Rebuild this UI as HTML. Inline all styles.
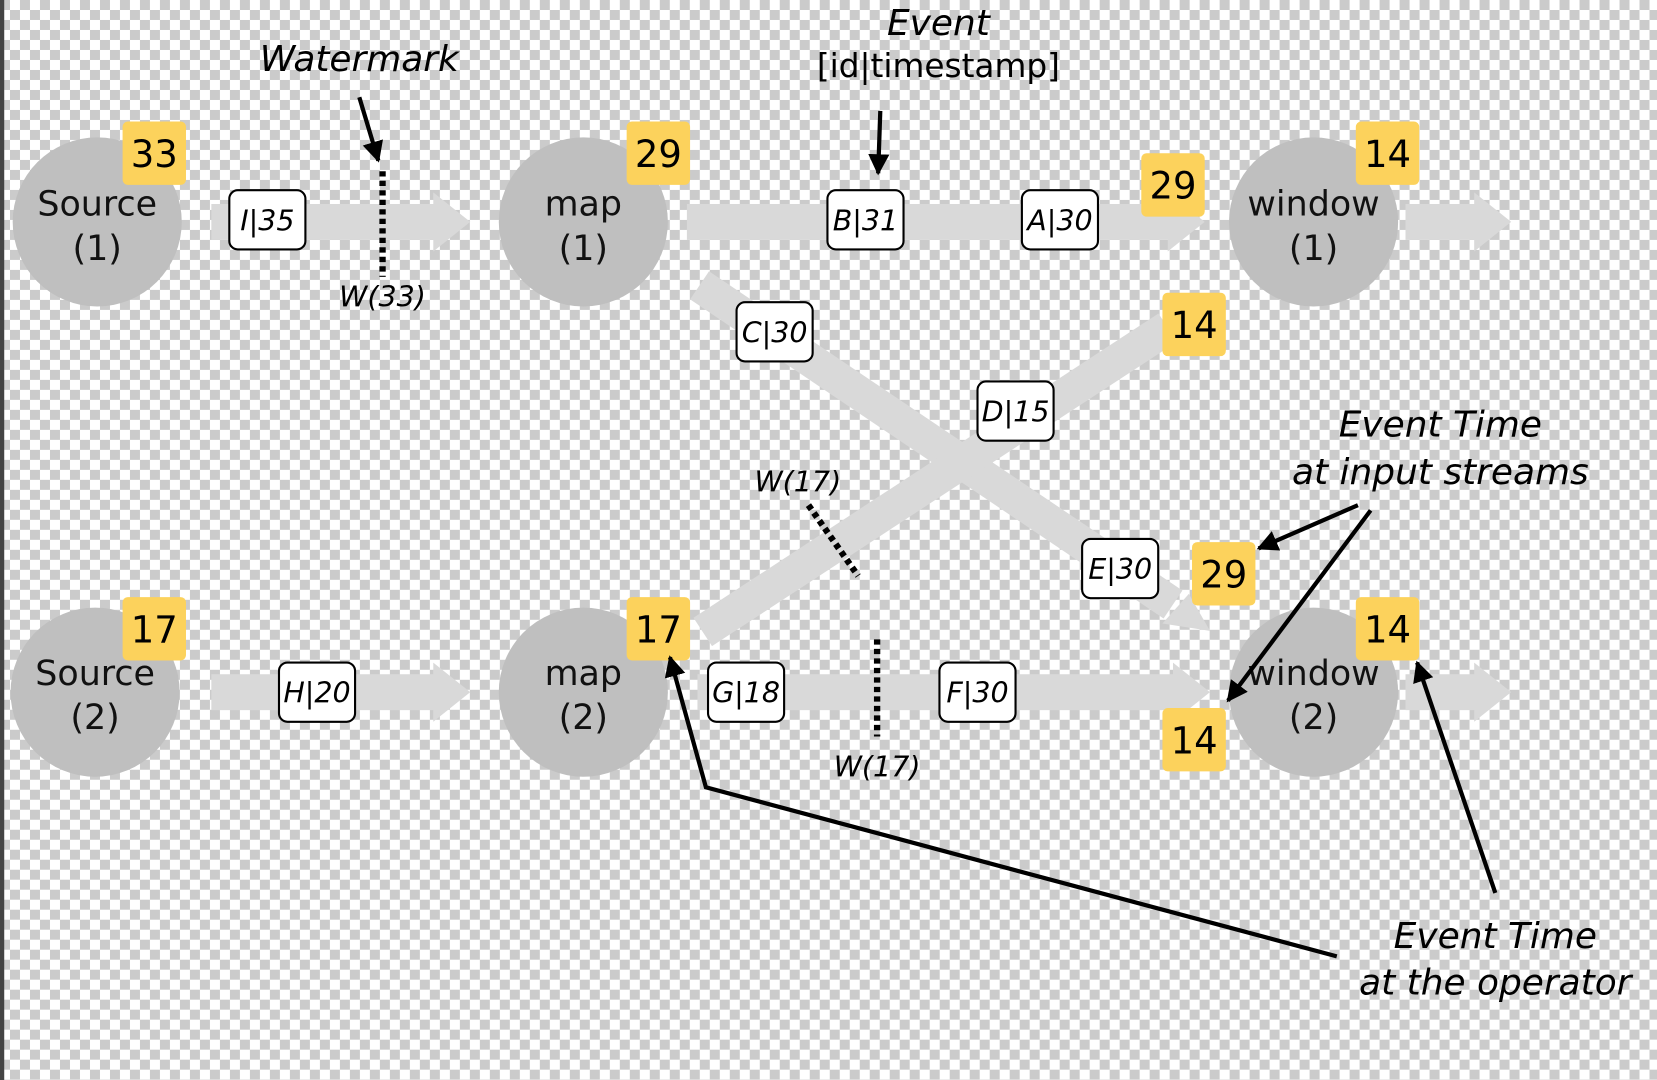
<!DOCTYPE html>
<html><head><meta charset="utf-8"><style>
html,body{margin:0;padding:0;width:1657px;height:1080px;overflow:hidden;background:#fff}
svg{display:block}
text{font-family:"DejaVu Sans","Liberation Sans",sans-serif}
.b{fill:#fff;stroke:#000;stroke-width:2}
.bt{font-size:27px;font-style:italic;text-anchor:middle}
.y{fill:#fcd25c}
.yt{font-size:35px;text-anchor:middle}
.c{fill:#bfbfbf}
.ct{font-size:33px;text-anchor:middle;fill:#111}
.a{fill:#d9d9d9}
.l{stroke:#000;stroke-width:4;fill:none}
.d{stroke:#000;stroke-width:6;stroke-dasharray:5 4;fill:none}
.it{font-style:italic;text-anchor:middle}
</style></head><body>
<svg width="1657" height="1080" viewBox="0 0 1568 1022" preserveAspectRatio="none">
<defs>
<pattern id="ck" width="18.92" height="18.92" patternUnits="userSpaceOnUse">
<rect width="18.92" height="18.92" fill="#fff"/>
<rect width="9.46" height="9.46" fill="#cbcbcb"/>
<rect x="9.46" y="9.46" width="9.46" height="9.46" fill="#cbcbcb"/>
</pattern>
<marker id="ah" markerWidth="6" markerHeight="6" refX="4.5" refY="3" orient="auto" markerUnits="strokeWidth">
<path d="M0,0.5 L5,3 L0,5.5 z" fill="#000"/>
</marker>
</defs>
<rect width="1568" height="1022" fill="url(#ck)"/>
<rect x="0" y="0" width="4" height="1022" fill="#444"/>

<g class="a">
<path d="M200,193 H410 V182 L445,210 L410,238 V227 H200 z"/>
<path d="M650,193 H1105 V182 L1140,210 L1105,238 V227 H650 z"/>
<path d="M1330,193 H1395 V182 L1430,210 L1395,238 V227 H1330 z"/>
<path d="M200,638 H410 V627 L445,655 L410,683 V672 H200 z"/>
<path d="M660,638 H1110 V627 L1145,655 L1110,683 V672 H660 z"/>
<path d="M1330,638 H1395 V627 L1430,655 L1395,683 V672 H1330 z"/>
</g>
<g stroke="#d9d9d9" stroke-width="32">
<line x1="662" y1="270" x2="1110" y2="572"/>
<line x1="665" y1="598" x2="1105" y2="310"/>
</g>
<path class="a" d="M1100,590 L1145,597 L1125,562 z"/>

<circle class="c" cx="92" cy="210" r="80"/>
<circle class="c" cx="552" cy="210" r="80"/>
<circle class="c" cx="1243" cy="210" r="80"/>
<circle class="c" cx="90" cy="655" r="80"/>
<circle class="c" cx="552" cy="655" r="80"/>
<circle class="c" cx="1243" cy="655" r="80"/>
<text class="ct" x="92" y="204">Source</text><text class="ct" x="92" y="246">(1)</text>
<text class="ct" x="552" y="204">map</text><text class="ct" x="552" y="246">(1)</text>
<text class="ct" x="1243" y="204">window</text><text class="ct" x="1243" y="246">(1)</text>
<text class="ct" x="90" y="648">Source</text><text class="ct" x="90" y="690">(2)</text>
<text class="ct" x="552" y="648">map</text><text class="ct" x="552" y="690">(2)</text>
<text class="ct" x="1243" y="648">window</text><text class="ct" x="1243" y="690">(2)</text>

<g>
<rect class="y" x="116" y="115" width="60" height="60" rx="5"/><text class="yt" x="146" y="158">33</text>
<rect class="y" x="593" y="115" width="60" height="60" rx="5"/><text class="yt" x="623" y="158">29</text>
<rect class="y" x="1080" y="145" width="60" height="60" rx="5"/><text class="yt" x="1110" y="188">29</text>
<rect class="y" x="1283" y="115" width="60" height="60" rx="5"/><text class="yt" x="1313" y="158">14</text>
<rect class="y" x="1100" y="277" width="60" height="60" rx="5"/><text class="yt" x="1130" y="320">14</text>
<rect class="y" x="1128" y="513" width="60" height="60" rx="5"/><text class="yt" x="1158" y="556">29</text>
<rect class="y" x="116" y="565" width="60" height="60" rx="5"/><text class="yt" x="146" y="608">17</text>
<rect class="y" x="593" y="565" width="60" height="60" rx="5"/><text class="yt" x="623" y="608">17</text>
<rect class="y" x="1283" y="565" width="60" height="60" rx="5"/><text class="yt" x="1313" y="608">14</text>
<rect class="y" x="1100" y="670" width="60" height="60" rx="5"/><text class="yt" x="1130" y="713">14</text>
</g>

<g>
<rect class="b" x="217" y="180" width="72" height="56" rx="8"/><text class="bt" x="253" y="218">I|35</text>
<rect class="b" x="783" y="180" width="72" height="56" rx="8"/><text class="bt" x="819" y="218">B|31</text>
<rect class="b" x="967" y="180" width="72" height="56" rx="8"/><text class="bt" x="1003" y="218">A|30</text>
<rect class="b" x="697" y="286" width="72" height="56" rx="8"/><text class="bt" x="733" y="324">C|30</text>
<rect class="b" x="925" y="361" width="72" height="56" rx="8"/><text class="bt" x="961" y="399">D|15</text>
<rect class="b" x="1024" y="510" width="72" height="56" rx="8"/><text class="bt" x="1060" y="548">E|30</text>
<rect class="b" x="264" y="627" width="72" height="56" rx="8"/><text class="bt" x="300" y="665">H|20</text>
<rect class="b" x="670" y="627" width="72" height="56" rx="8"/><text class="bt" x="706" y="665">G|18</text>
<rect class="b" x="889" y="627" width="72" height="56" rx="8"/><text class="bt" x="925" y="665">F|30</text>
</g>

<line class="d" x1="362" y1="162" x2="362" y2="262"/>
<line class="d" x1="765" y1="478" x2="812" y2="545"/>
<line class="d" x1="830" y1="605" x2="830" y2="697"/>

<text class="it" x="340" y="67" font-size="34">Watermark</text>
<text class="it" x="362" y="290" font-size="27">W(33)</text>
<text class="it" x="888" y="33" font-size="34">Event</text>
<text x="888" y="73" font-size="31" text-anchor="middle">[id|timestamp]</text>
<text class="it" x="755" y="465" font-size="27">W(17)</text>
<text class="it" x="830" y="735" font-size="27">W(17)</text>
<text class="it" x="1363" y="413" font-size="34">Event Time</text>
<text class="it" x="1363" y="458" font-size="34">at input streams</text>
<text class="it" x="1415" y="897" font-size="34">Event Time</text>
<text class="it" x="1415" y="941" font-size="34">at the operator</text>

<line class="l" x1="340" y1="92" x2="358" y2="152" marker-end="url(#ah)"/>
<line class="l" x1="833" y1="105" x2="831" y2="164" marker-end="url(#ah)"/>
<line class="l" x1="1285" y1="478" x2="1191" y2="519" marker-end="url(#ah)"/>
<line class="l" x1="1297" y1="483" x2="1162" y2="663" marker-end="url(#ah)"/>
<line class="l" x1="1415" y1="845" x2="1341" y2="627" marker-end="url(#ah)"/>
<polyline class="l" points="1265,905 668,745 634,622" marker-end="url(#ah)"/>
</svg>
</body></html>
